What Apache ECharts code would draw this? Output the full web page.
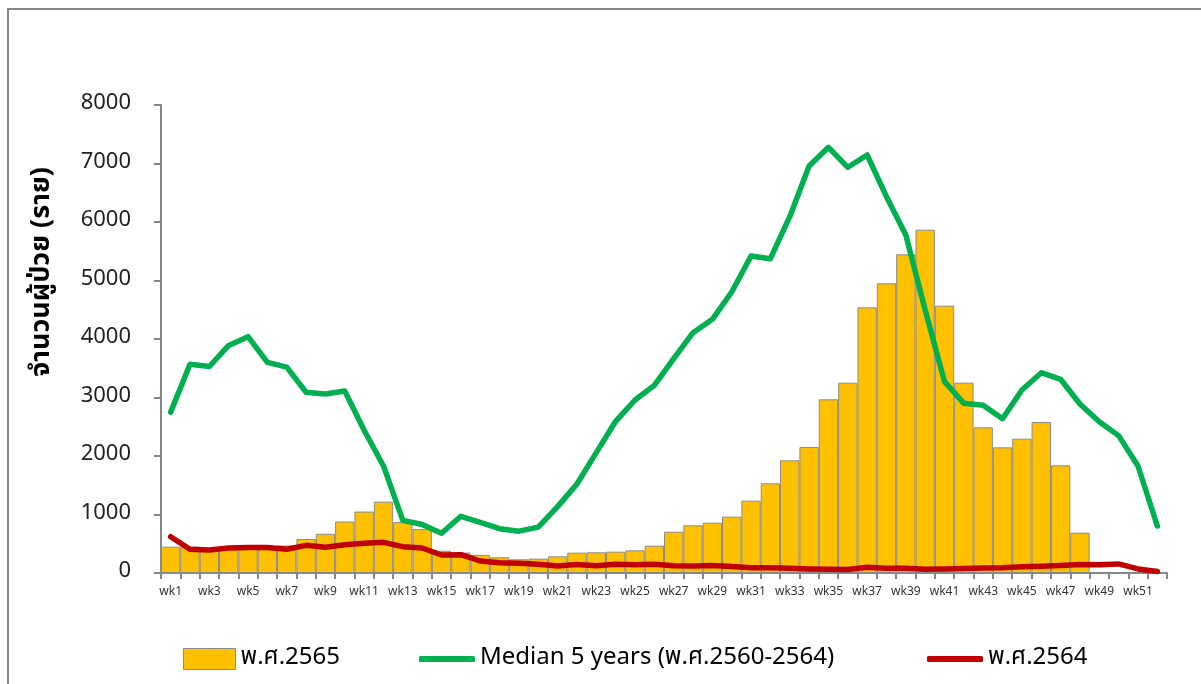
<!DOCTYPE html>
<html>
<head>
<meta charset="utf-8">
<script src="https://cdn.jsdelivr.net/npm/echarts@6/dist/echarts.min.js"></script>
<style>
html,body{margin:0;padding:0;background:#fff;}
#chart{width:1201px;height:684px;}
</style>
</head>
<body>
<div id="chart"></div>
<script>
const categories = Array.from({length: 52}, (_, i) => 'wk' + (i + 1));
const yTicks = [0, 1000, 2000, 3000, 4000, 5000, 6000, 7000, 8000];
const cases2565 = [450,450,400,420,430,430,470,580,670,880,1050,1220,870,750,380,350,310,270,235,245,285,348,354,365,388,467,706,815,860,963,1236,1533,1926,2154,2969,3253,4541,4952,5447,5869,4570,3253,2490,2148,2296,2581,1840,689,null,null,null,null];
const median5y = [2750,3570,3530,3890,4040,3600,3520,3090,3060,3110,2440,1830,900,830,680,970,866,758,715,785,1134,1521,2057,2593,2957,3208,3664,4108,4336,4803,5419,5373,6091,6957,7277,6935,7145,6433,5778,4496,3271,2900,2866,2638,3128,3424,3311,2889,2587,2348,1829,803];
const cases2564 = [620,405,395,427,434,434,405,473,439,484,507,524,450,427,308,313,205,177,165,150,120,145,125,150,140,150,125,120,130,110,90,90,80,70,65,60,100,80,80,65,70,75,85,90,105,115,130,145,140,155,70,25];
const names = ['พ.ศ.2565', 'Median 5 years (พ.ศ.2560-2564)', 'พ.ศ.2564'];
const yTitle = 'จำนวนผู้ป่วย (ราย)';

const FONT = '"Noto Sans Thai", Tahoma, "DejaVu Sans", "Noto Sans", sans-serif';
const chart = echarts.init(document.getElementById('chart'), null, {renderer: 'canvas'});
const legendText = {fontSize: 24, color: '#000', fontFamily: FONT};
chart.setOption({
  animation: false,
  backgroundColor: '#fff',
  graphic: [{
    type: 'rect', shape: {x: 8, y: 9, width: 1300, height: 800},
    style: {fill: 'none', stroke: '#868686', lineWidth: 2}, silent: true, z: -1
  }, {
    type: 'text', x: 44, y: 272, rotation: Math.PI / 2,
    style: {text: yTitle, fontSize: 27, fontWeight: 'bold', fill: '#000', fontFamily: FONT,
            textAlign: 'center', textVerticalAlign: 'middle'}, silent: true
  }],
  grid: {left: 161, right: 34, top: 105, bottom: 111},
  legend: [
    {data: [names[0]], left: 178, top: 642, icon: 'rect', itemWidth: 52, itemHeight: 21, itemGap: 0,
     itemStyle: {borderColor: '#8c8c8c', borderWidth: 1}, textStyle: legendText},
    {data: [names[1]], left: 414, top: 642, icon: 'roundRect', itemWidth: 56, itemHeight: 6, itemGap: 0, textStyle: legendText},
    {data: [names[2]], left: 922, top: 642, icon: 'roundRect', itemWidth: 56, itemHeight: 6, itemGap: 0, textStyle: legendText}
  ],
  xAxis: {
    type: 'category', data: categories, boundaryGap: true,
    axisLine: {lineStyle: {color: '#868686', width: 2}},
    axisTick: {show: true, interval: 0, length: 6, lineStyle: {color: '#868686', width: 2}},
    axisLabel: {interval: 1, fontSize: 12, color: '#333', margin: 14, fontFamily: FONT}
  },
  yAxis: {
    type: 'value', min: yTicks[0], max: yTicks[yTicks.length - 1], interval: 1000,
    axisLine: {show: true, lineStyle: {color: '#868686', width: 2}},
    axisTick: {show: true, length: 7, lineStyle: {color: '#868686', width: 2}},
    splitLine: {show: false},
    axisLabel: {fontSize: 22, color: '#222', margin: 30, fontFamily: FONT, formatter: v => String(v)}
  },
  series: [
    {name: names[0], type: 'bar', data: cases2565, barCategoryGap: '0%',
     itemStyle: {color: '#FFC000', borderColor: '#8c8c8c', borderWidth: 1}, z: 1},
    {name: names[1], type: 'line', data: median5y, showSymbol: false, symbol: 'none',
     lineStyle: {color: '#00B050', width: 5.5, cap: 'round', join: 'round'}, itemStyle: {color: '#00B050'}, z: 3},
    {name: names[2], type: 'line', data: cases2564, showSymbol: false, symbol: 'none',
     lineStyle: {color: '#C00000', width: 5.5, cap: 'round', join: 'round'}, itemStyle: {color: '#C00000'}, z: 4}
  ]
});
</script>
</body>
</html>
